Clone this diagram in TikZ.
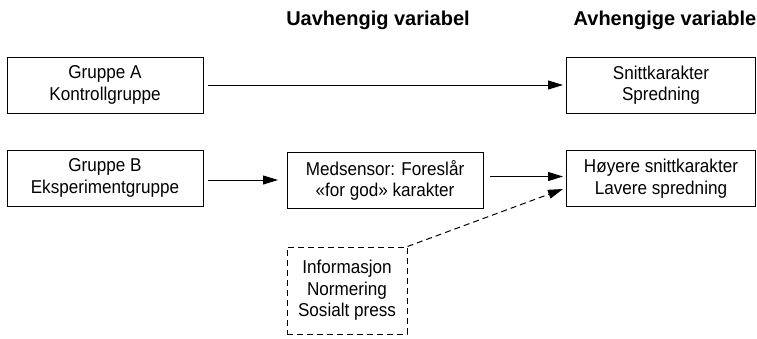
\documentclass[tikz,border=0pt]{standalone}
\usepackage{fontspec}
\setmainfont{Liberation Sans}[FakeStretch=0.92]
\newfontfamily\headfont{Liberation Sans}
\usetikzlibrary{arrows.meta}
\begin{document}
\begin{tikzpicture}[x=1pt,y=-1pt,
  box/.style={draw,line width=1pt,minimum height=56pt,align=center,inner sep=0pt,font=\fontsize{18.6}{21.5}\selectfont},
  dbox/.style={draw,dash pattern=on 6pt off 4pt,line width=1pt,align=center,inner sep=0pt,font=\fontsize{18.6}{21.5}\selectfont},
  head/.style={anchor=base,font=\headfont\bfseries\fontsize{20}{24}\selectfont},
  arr/.style={line width=1pt,-{Triangle[length=15pt,width=9pt]}}]
\useasboundingbox (0,0) rectangle (757,338);
\node[box,minimum width=196pt] (A) at (105,85) {Gruppe A\\Kontrollgruppe};
\node[box,minimum width=196pt] (B) at (105,178) {Gruppe B\\Eksperimentgruppe};
\node[box,minimum width=196pt] (M) at (385,180.5) {Medsensor: Foreslår\\«for god» karakter};
\node[box,minimum width=189pt] (S) at (661,85) {Snittkarakter\\Spredning};
\node[box,minimum width=189pt] (H) at (661,178.5) {Høyere snittkarakter\\Lavere spredning};
\node[dbox,minimum width=120pt,minimum height=87pt] (D) at (347,290.5) {Informasjon\\Normering\\Sosialt press};
\node[head] (h1) at (378,25) {Uavhengig variabel};
\node[head] (h2) at (665,25) {Avhengige variable};
\coordinate (a1) at (208,85);
\coordinate (a2) at (563,85);
\coordinate (b1) at (208,180);
\coordinate (b2) at (278,180);
\coordinate (m1) at (490,176.5);
\coordinate (m2) at (563,176.5);
\coordinate (d2) at (563,189);
\draw[arr] (a1) -- (a2);
\draw[arr] (b1) -- (b2);
\draw[arr] (m1) -- (m2);
\draw[arr,dash pattern=on 6pt off 4pt] (D.north east) -- (d2);
\end{tikzpicture}
\end{document}
